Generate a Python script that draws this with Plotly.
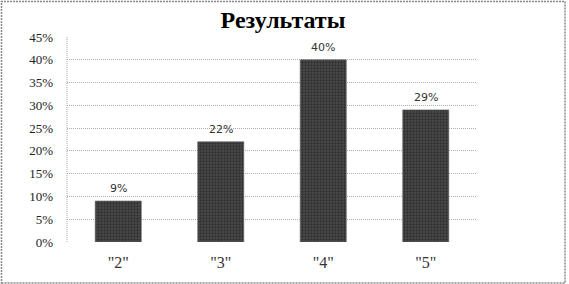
import plotly.graph_objects as go

categories = ['"2"', '"3"', '"4"', '"5"']
values = [9, 22, 40, 29]
labels = ["9%", "22%", "40%", "29%"]
y_ticks = [0, 5, 10, 15, 20, 25, 30, 35, 40, 45]
y_ticktext = [f"{t}%" for t in y_ticks]
title_text = "Результаты"

SERIF = "Liberation Serif, Times New Roman, serif"

W, H = 569, 284
L, R, T, B = 67, 92, 37, 42
pw, ph = W - L - R, H - T - B

def px2paper_x(px):
    return (px - L) / pw

def px2paper_y(py):
    return (H - B - py) / ph

fig = go.Figure()
fig.add_trace(go.Bar(
    x=categories, y=values,
    marker=dict(color="#3a3a3a",
                line=dict(color="#666", width=0.6),
                pattern=dict(shape=".", fgcolor="#111", bgcolor="#4a4a4a", size=3, solidity=0.45)),
    width=0.45,
))

for c, v, t in zip(categories, values, labels):
    fig.add_annotation(x=c, y=v, text=t, showarrow=False, yanchor="bottom", yshift=4,
                       font=dict(family="DejaVu Sans", size=11, color="#333"))

fig.update_layout(
    width=W, height=H,
    margin=dict(l=L, r=R, t=T, b=B),
    paper_bgcolor="white", plot_bgcolor="white",
    showlegend=False,
    title=dict(text=f"<b>{title_text}</b>", x=283 / W, xanchor="center", xref="container",
               y=1 - 20 / H, yanchor="middle", yref="container",
               font=dict(family=SERIF, size=24, color="black")),
    xaxis=dict(showgrid=False, showline=False, ticks="",
               tickfont=dict(family=SERIF, size=16, color="#333"),
               ticklabelstandoff=9),
    yaxis=dict(range=[0, 45], tickvals=y_ticks, ticktext=y_ticktext,
               showgrid=True, gridcolor="#b0b0b0", griddash="1px,1px", gridwidth=1,
               zeroline=False, showline=False, ticks="",
               tickfont=dict(family=SERIF, size=13, color="#222"),
               ticklabelstandoff=13),
)

# dotted left axis line
fig.add_shape(type="line", xref="paper", yref="paper", x0=0, x1=0, y0=0, y1=1,
              line=dict(color="#aaaaaa", width=1, dash="1px,1px"))
# outer dotted border
fig.add_shape(type="rect", xref="paper", yref="paper",
              x0=px2paper_x(1.5), x1=px2paper_x(565), y0=px2paper_y(283), y1=px2paper_y(1.5),
              line=dict(color="#888888", width=1.5, dash="2px,1px"), layer="above")

fig.write_html("out.html")
